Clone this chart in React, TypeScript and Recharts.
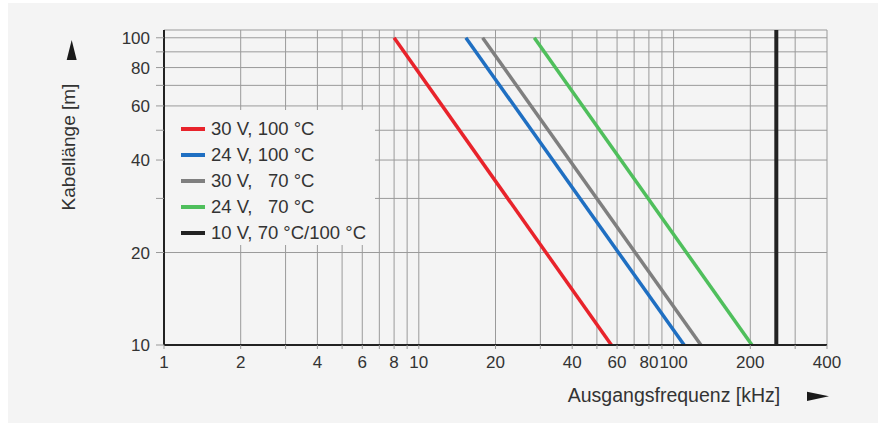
import { CartesianGrid, Customized, Legend, Line, LineChart, XAxis, YAxis } from 'recharts'

const freqTicks = [1, 2, 3, 4, 5, 6, 7, 8, 9, 10, 20, 30, 40, 50, 60, 70, 80, 90, 100, 200, 300, 400]
const freqLabels = [1, 2, 4, 6, 8, 10, 20, 40, 60, 80, 100, 200, 400]
const lengthTicks = [10, 20, 30, 40, 50, 60, 70, 80, 90, 100]
const lengthLabels = [10, 20, 40, 60, 80, 100]

// Kabellänge [m] über Ausgangsfrequenz [kHz]
const curve30V100C = [
	{ f: 8, len: 100 },
	{ f: 57, len: 10 }
]
const curve24V100C = [
	{ f: 15.3, len: 100 },
	{ f: 110, len: 10 }
]
const curve30V70C = [
	{ f: 17.8, len: 100 },
	{ f: 128, len: 10 }
]
const curve24V70C = [
	{ f: 28.4, len: 100 },
	{ f: 203, len: 10 }
]
const curve10V = [
	{ f: 253, len: 106 },
	{ f: 253, len: 10 }
]

const series = [
	{ name: '30 V, 100 °C', color: '#e8232b', data: curve30V100C, width: 3.5 },
	{ name: '24 V, 100 °C', color: '#1f6fc2', data: curve24V100C, width: 3.5 },
	{ name: '30 V,   70 °C', color: '#7f7f7f', data: curve30V70C, width: 3.5 },
	{ name: '24 V,   70 °C', color: '#4fbf5c', data: curve24V70C, width: 3.5 },
	{ name: '10 V, 70 °C/100 °C', color: '#222222', data: curve10V, width: 4 }
]

const font = "'Liberation Sans', Arial, sans-serif"

function LegendBox({ payload }: any) {
	const order = series.map((s) => s.name)
	const items = payload && payload.length
		? [...payload].sort((a: any, b: any) => order.indexOf(a.value) - order.indexOf(b.value))
		: series.map((s) => ({ value: s.name, color: s.color }))
	return (
		<div
			style={{
				background: '#f4f4f4',
				padding: '6px 0 0 16px',
				width: 194,
				height: 129,
				fontFamily: font
			}}
		>
			{items.map((item: any) => (
				<div
					key={item.value}
					style={{ display: 'flex', alignItems: 'center', height: 26 }}
				>
					<span
						style={{
							display: 'inline-block',
							width: 24,
							height: 3.5,
							background: item.color,
							marginRight: 6
						}}
					/>
					<span style={{ whiteSpace: 'pre', fontSize: 18.5, color: '#333' }}>{item.value}</span>
				</div>
			))}
		</div>
	)
}

function AxisTitles() {
	return (
		<g fontFamily={font} fill='#333'>
			<text
				transform='translate(67, 144) rotate(-90)'
				textAnchor='middle'
				fontSize={19}
			>
				Kabellänge [m]
			</text>
			<polygon
				points='63.7,37 58.7,57 68.7,57'
				fill='#1a1a1a'
			/>
			<text
				x={666}
				y={398.5}
				textAnchor='middle'
				fontSize={19.5}
			>
				Ausgangsfrequenz [kHz]
			</text>
			<polygon
				points='799,388.7 821,393.3 799,398'
				fill='#1a1a1a'
			/>
		</g>
	)
}

export default function App() {
	return (
		<div
			style={{
				position: 'absolute',
				left: 8,
				top: 3,
				width: 870,
				height: 420,
				background: '#f4f4f4'
			}}
		>
			<LineChart
				width={870}
				height={420}
				margin={{ top: 27, right: 51, bottom: 38, left: 96 }}
			>
				<CartesianGrid
					stroke='#9a9a9a'
					strokeWidth={1}
				/>
				<XAxis
					dataKey='f'
					type='number'
					scale='log'
					domain={[1, 400]}
					ticks={freqTicks}
					interval={0}
					allowDataOverflow
					height={40}
					tickFormatter={(v: number) => (freqLabels.includes(v) ? String(v) : '')}
					tickSize={4}
					tickMargin={7}
					axisLine={{ stroke: '#222', strokeWidth: 2 }}
					tickLine={{ stroke: '#999' }}
					tick={{ fill: '#333', fontSize: 17, fontFamily: font }}
				/>
				<YAxis
					dataKey='len'
					type='number'
					scale='log'
					domain={[10, 106]}
					ticks={lengthTicks}
					interval={0}
					allowDataOverflow
					width={60}
					tickFormatter={(v: number) => (lengthLabels.includes(v) ? String(v) : '')}
					tickSize={8}
					tickMargin={6}
					axisLine={{ stroke: '#222', strokeWidth: 2 }}
					tickLine={{ stroke: '#999' }}
					tick={{ fill: '#333', fontSize: 17, fontFamily: font }}
				/>
				{series.map((s) => (
					<Line
						key={s.name}
						name={s.name}
						data={s.data}
						dataKey='len'
						type='linear'
						stroke={s.color}
						strokeWidth={s.width}
						dot={false}
						activeDot={false}
						isAnimationActive={false}
					/>
				))}
				<Legend
					layout='vertical'
					align='center'
					verticalAlign='middle'
					wrapperStyle={{ left: 157, top: 107, width: 210, height: 135 }}
					content={LegendBox}
				/>
				<Customized component={AxisTitles} />
			</LineChart>
		</div>
	)
}
